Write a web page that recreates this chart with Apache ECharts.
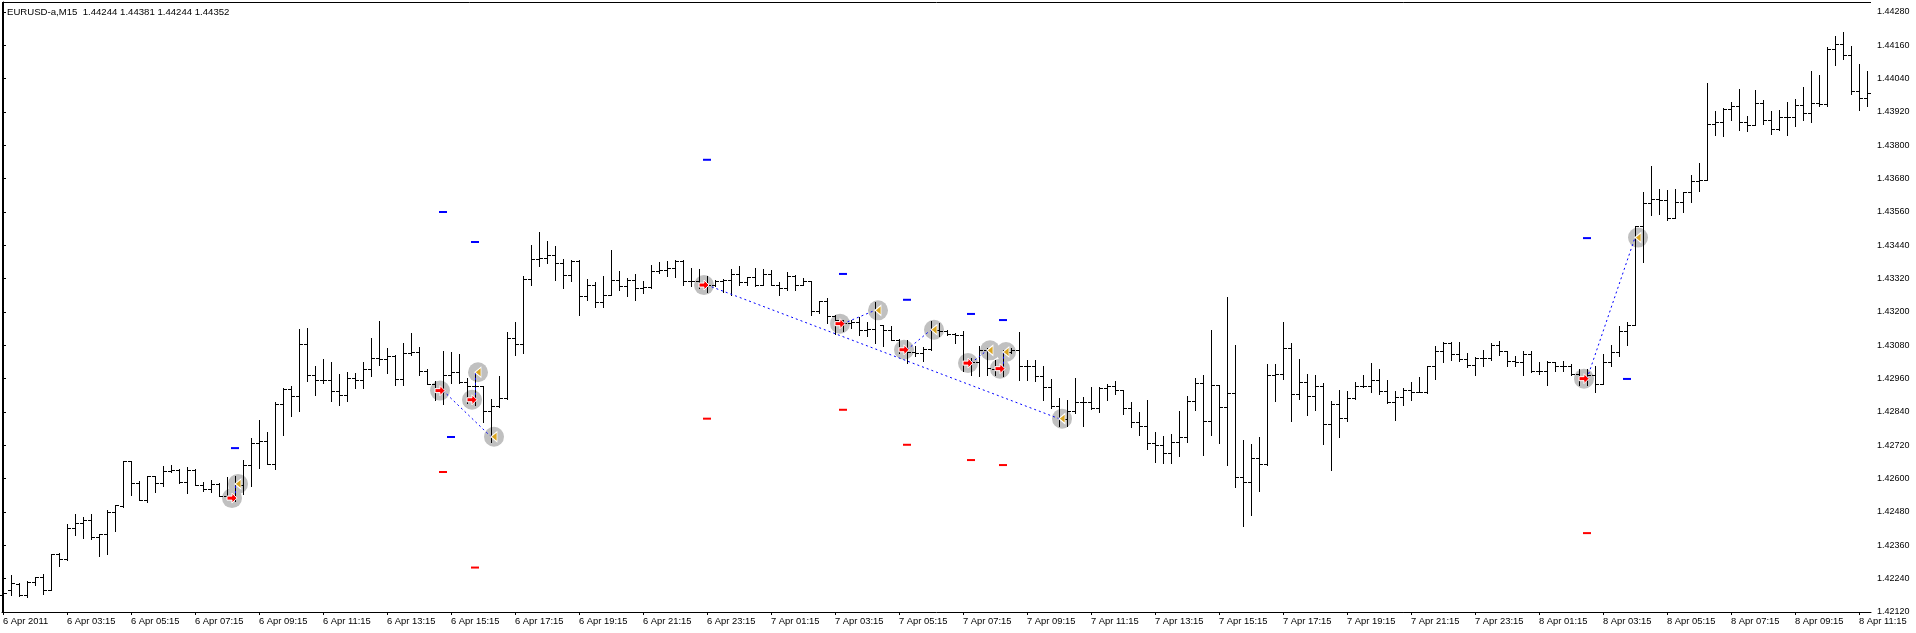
<!DOCTYPE html>
<html>
<head>
<meta charset="utf-8">
<title>EURUSD-a,M15</title>
<script src="https://cdn.jsdelivr.net/npm/echarts@6/dist/echarts.min.js"></script>
<style>
  html, body { margin: 0; padding: 0; background: #fff; }
  #chart { width: 1916px; height: 633px; }
</style>
</head>
<body>
<div id="chart"></div>
<script>
// M15 bars, first bar = 6 Apr 2011 01:15
var opens = [
  1.42182,1.42200,1.42222,1.42181,1.42227,1.42246,1.42199,1.42329,1.42311,1.42421,
  1.42440,1.42452,1.42389,1.42401,1.42481,1.42502,1.42664,1.42584,1.42522,1.42608,
  1.42584,1.42628,1.42632,1.42587,1.42632,1.42577,1.42563,1.42582,1.42536,1.42529,
  1.42578,1.42648,1.42728,1.42734,1.42653,1.42870,1.42924,1.42898,1.43086,1.42975,
  1.42955,1.42955,1.42917,1.42901,1.42962,1.42955,1.42996,1.43034,1.43031,1.43043,
  1.42959,1.43052,1.43056,1.42988,1.42942,1.42920,1.42974,1.42983,1.42949,1.42932,
  1.42932,1.42845,1.42860,1.42889,1.43106,1.43086,1.43319,1.43391,1.43394,1.43405,
  1.43375,1.43333,1.43385,1.43258,1.43297,1.43236,1.43262,1.43316,1.43292,1.43316,
  1.43286,1.43289,1.43349,1.43352,1.43358,1.43382,1.43310,1.43310,1.43298,1.43298,
  1.43313,1.43316,1.43337,1.43308,1.43325,1.43297,1.43338,1.43297,1.43285,1.43331,
  1.43297,1.43310,1.43202,1.43238,1.43184,1.43172,1.43160,1.43163,1.43134,1.43139,
  1.43152,1.43134,1.43100,1.43070,1.43056,1.43052,1.43067,1.43136,1.43130,1.43122,
  1.43118,1.43016,1.43020,1.43064,1.42995,1.42996,1.43055,1.43064,1.43004,1.43004,
  1.42968,1.42930,1.42860,1.42816,1.42842,1.42875,1.42876,1.42854,1.42926,1.42935,
  1.42918,1.42854,1.42804,1.42788,1.42728,1.42722,1.42692,1.42732,1.42750,1.42880,
  1.42944,1.42809,1.42938,1.42858,1.42908,1.42606,1.42587,1.42674,1.42654,1.42974,
  1.42978,1.43070,1.42906,1.42948,1.42896,1.42932,1.42797,1.42870,1.42818,1.42889,
  1.42932,1.42935,1.42956,1.42914,1.42876,1.42894,1.42920,1.42911,1.42911,1.43004,
  1.43061,1.43088,1.43049,1.43031,1.43010,1.43034,1.43034,1.43080,1.43058,1.43022,
  1.43020,1.43050,1.42986,1.42986,1.43019,1.43004,1.43004,1.42978,1.42962,1.42974,
  1.42942,1.43020,1.43056,1.43133,1.43154,1.43508,1.43592,1.43607,1.43604,1.43538,
  1.43596,1.43631,1.43670,1.43674,1.43878,1.43883,1.43931,1.43943,1.43884,1.43874,
  1.43952,1.43892,1.43859,1.43902,1.43902,1.43946,1.43916,1.43952,1.43950,1.44147,
  1.44166,1.44126,1.43994,1.43970
];
var highs = [
  1.42245,1.42253,1.42224,1.42230,1.42247,1.42258,1.42330,1.42332,1.42438,1.42473,
  1.42463,1.42473,1.42402,1.42486,1.42505,1.42664,1.42664,1.42590,1.42608,1.42608,
  1.42647,1.42650,1.42635,1.42641,1.42636,1.42587,1.42594,1.42584,1.42607,1.42608,
  1.42666,1.42746,1.42812,1.42768,1.42875,1.42925,1.42935,1.43140,1.43144,1.43007,
  1.43031,1.43021,1.42978,1.42985,1.42980,1.43020,1.43108,1.43169,1.43072,1.43044,
  1.43088,1.43124,1.43074,1.42996,1.42953,1.43060,1.43057,1.43050,1.42961,1.42983,
  1.42935,1.42888,1.42971,1.43129,1.43163,1.43331,1.43442,1.43489,1.43457,1.43439,
  1.43392,1.43386,1.43387,1.43320,1.43309,1.43328,1.43424,1.43346,1.43322,1.43338,
  1.43310,1.43370,1.43379,1.43382,1.43386,1.43388,1.43358,1.43355,1.43328,1.43316,
  1.43320,1.43355,1.43367,1.43326,1.43358,1.43355,1.43352,1.43307,1.43343,1.43334,
  1.43322,1.43310,1.43238,1.43250,1.43190,1.43172,1.43172,1.43182,1.43163,1.43236,
  1.43152,1.43148,1.43103,1.43098,1.43076,1.43073,1.43166,1.43160,1.43134,1.43124,
  1.43133,1.43034,1.43076,1.43070,1.43028,1.43064,1.43070,1.43129,1.43028,1.43028,
  1.43007,1.42960,1.42889,1.42884,1.42962,1.42894,1.42930,1.42930,1.42942,1.42953,
  1.42920,1.42877,1.42841,1.42884,1.42768,1.42755,1.42762,1.42845,1.42899,1.42962,
  1.42974,1.43136,1.42938,1.43253,1.43080,1.42740,1.42726,1.42750,1.43014,1.43014,
  1.43164,1.43088,1.43032,1.42978,1.42974,1.42944,1.42881,1.42920,1.42917,1.42948,
  1.42974,1.43016,1.42996,1.42956,1.42917,1.42926,1.42947,1.42966,1.43004,1.43076,
  1.43092,1.43092,1.43092,1.43052,1.43038,1.43064,1.43088,1.43094,1.43058,1.43043,
  1.43061,1.43061,1.43020,1.43025,1.43020,1.43022,1.43013,1.42995,1.42995,1.43007,
  1.43050,1.43082,1.43151,1.43163,1.43511,1.43631,1.43724,1.43643,1.43640,1.43644,
  1.43632,1.43694,1.43736,1.44024,1.43925,1.43934,1.43956,1.44003,1.43907,1.44000,
  1.43964,1.43922,1.43928,1.43956,1.43968,1.44010,1.44066,1.44054,1.44153,1.44195,
  1.44208,1.44159,1.44094,1.44069
];
var lows = [
  1.42176,1.42182,1.42176,1.42173,1.42216,1.42186,1.42198,1.42284,1.42308,1.42396,
  1.42385,1.42383,1.42320,1.42330,1.42410,1.42498,1.42540,1.42522,1.42515,1.42551,
  1.42572,1.42623,1.42584,1.42548,1.42576,1.42554,1.42553,1.42536,1.42527,1.42518,
  1.42545,1.42572,1.42638,1.42653,1.42635,1.42759,1.42824,1.42842,1.42950,1.42903,
  1.42944,1.42878,1.42864,1.42878,1.42925,1.42925,1.42968,1.43010,1.42979,1.42936,
  1.42939,1.43044,1.42972,1.42942,1.42884,1.42870,1.42944,1.42944,1.42872,1.42865,
  1.42804,1.42732,1.42857,1.42887,1.43044,1.43051,1.43296,1.43364,1.43378,1.43314,
  1.43285,1.43310,1.43191,1.43244,1.43217,1.43217,1.43262,1.43280,1.43256,1.43242,
  1.43268,1.43286,1.43340,1.43328,1.43326,1.43296,1.43295,1.43286,1.43271,1.43292,
  1.43271,1.43262,1.43297,1.43297,1.43292,1.43297,1.43297,1.43260,1.43279,1.43278,
  1.43296,1.43188,1.43196,1.43160,1.43122,1.43130,1.43142,1.43118,1.43112,1.43088,
  1.43076,1.43100,1.43052,1.43016,1.43040,1.43022,1.43064,1.43112,1.43118,1.43088,
  1.42986,1.42974,1.42968,1.42974,1.42974,1.42968,1.43052,1.42954,1.42956,1.42953,
  1.42884,1.42856,1.42788,1.42788,1.42836,1.42788,1.42852,1.42840,1.42882,1.42904,
  1.42833,1.42785,1.42756,1.42707,1.42659,1.42656,1.42656,1.42680,1.42732,1.42848,
  1.42684,1.42756,1.42728,1.42650,1.42569,1.42428,1.42468,1.42554,1.42650,1.42878,
  1.42959,1.42806,1.42888,1.42828,1.42848,1.42726,1.42630,1.42749,1.42809,1.42887,
  1.42930,1.42911,1.42905,1.42872,1.42810,1.42866,1.42884,1.42911,1.42908,1.42960,
  1.43019,1.43026,1.43022,1.43001,1.42972,1.43004,1.43028,1.43046,1.43004,1.43004,
  1.42972,1.42984,1.42978,1.42938,1.42986,1.42986,1.42972,1.42938,1.42938,1.42911,
  1.42941,1.43004,1.43040,1.43082,1.43154,1.43379,1.43550,1.43554,1.43530,1.43538,
  1.43559,1.43595,1.43634,1.43674,1.43838,1.43835,1.43892,1.43854,1.43850,1.43874,
  1.43878,1.43841,1.43856,1.43836,1.43868,1.43890,1.43883,1.43940,1.43940,1.44088,
  1.44111,1.43985,1.43928,1.43940
];
var closes = [
  1.42188,1.42223,1.42183,1.42228,1.42246,1.42200,1.42329,1.42311,1.42421,1.42440,
  1.42452,1.42389,1.42401,1.42481,1.42504,1.42664,1.42584,1.42523,1.42608,1.42584,
  1.42628,1.42630,1.42587,1.42632,1.42577,1.42563,1.42582,1.42536,1.42529,1.42578,
  1.42648,1.42728,1.42734,1.42653,1.42870,1.42924,1.42898,1.43086,1.42975,1.42955,
  1.42955,1.42917,1.42901,1.42962,1.42955,1.42996,1.43034,1.43031,1.43043,1.42959,
  1.43052,1.43056,1.42988,1.42942,1.42920,1.42974,1.42983,1.42949,1.42932,1.42932,
  1.42845,1.42860,1.42889,1.43106,1.43086,1.43319,1.43391,1.43394,1.43405,1.43375,
  1.43333,1.43385,1.43258,1.43297,1.43236,1.43262,1.43316,1.43292,1.43316,1.43286,
  1.43289,1.43349,1.43352,1.43358,1.43382,1.43310,1.43310,1.43298,1.43298,1.43313,
  1.43316,1.43337,1.43308,1.43325,1.43297,1.43338,1.43297,1.43285,1.43331,1.43297,
  1.43310,1.43202,1.43238,1.43184,1.43172,1.43160,1.43163,1.43134,1.43139,1.43206,
  1.43134,1.43100,1.43070,1.43056,1.43052,1.43067,1.43136,1.43130,1.43122,1.43118,
  1.43016,1.43020,1.43064,1.43000,1.42996,1.43055,1.43064,1.43004,1.43004,1.42968,
  1.42930,1.42860,1.42816,1.42842,1.42875,1.42876,1.42854,1.42926,1.42935,1.42918,
  1.42854,1.42804,1.42788,1.42728,1.42722,1.42692,1.42732,1.42750,1.42880,1.42944,
  1.42809,1.42938,1.42858,1.42908,1.42606,1.42587,1.42674,1.42654,1.42974,1.42978,
  1.43070,1.42906,1.42948,1.42896,1.42932,1.42797,1.42870,1.42818,1.42889,1.42932,
  1.42935,1.42956,1.42914,1.42876,1.42894,1.42920,1.42911,1.42911,1.43004,1.43061,
  1.43088,1.43049,1.43031,1.43010,1.43034,1.43034,1.43080,1.43058,1.43022,1.43020,
  1.43050,1.42986,1.42986,1.43019,1.43004,1.43004,1.42978,1.42962,1.42974,1.42942,
  1.43020,1.43056,1.43133,1.43154,1.43508,1.43592,1.43607,1.43604,1.43538,1.43596,
  1.43631,1.43670,1.43674,1.43878,1.43883,1.43931,1.43943,1.43884,1.43874,1.43952,
  1.43892,1.43859,1.43902,1.43902,1.43946,1.43916,1.43952,1.43950,1.44147,1.44166,
  1.44126,1.43994,1.43970,1.43988
];

// time labels, one every 8 bars
var timeLabels = [
  '6 Apr 2011','6 Apr 03:15','6 Apr 05:15','6 Apr 07:15','6 Apr 09:15','6 Apr 11:15',
  '6 Apr 13:15','6 Apr 15:15','6 Apr 17:15','6 Apr 19:15','6 Apr 21:15','6 Apr 23:15',
  '7 Apr 01:15','7 Apr 03:15','7 Apr 05:15','7 Apr 07:15','7 Apr 09:15','7 Apr 11:15',
  '7 Apr 13:15','7 Apr 15:15','7 Apr 17:15','7 Apr 19:15','7 Apr 21:15','7 Apr 23:15',
  '8 Apr 01:15','8 Apr 03:15','8 Apr 05:15','8 Apr 07:15','8 Apr 09:15','8 Apr 11:15'
];
var priceLabels = [
  '1.42120','1.42240','1.42360','1.42480','1.42600','1.42720','1.42840','1.42960',
  '1.43080','1.43200','1.43320','1.43440','1.43560','1.43680','1.43800','1.43920',
  '1.44040','1.44160','1.44280'
];

// trades: entry arrow / exit triangle (bar index, price)
var entryBar   = [29, 55, 59, 88, 105, 113, 121, 125, 198];
var entryPrice = [1.42530, 1.42917, 1.42884, 1.43297, 1.43158, 1.43064, 1.43016, 1.42996, 1.42960];
var exitBar    = [29, 61, 59, 132, 109, 116, 123, 125, 204];
var exitPrice  = [1.42581, 1.42751, 1.42983, 1.42816, 1.43206, 1.43136, 1.43062, 1.43056, 1.43468];

// take profit / stop loss marks
var tpBar   = [29, 55, 56, 59, 88, 105, 113, 121, 125, 198, 203];
var tpPrice = [1.42710, 1.43560, 1.42750, 1.43452, 1.43748, 1.43337, 1.43244, 1.43193, 1.43171, 1.43466, 1.42959];
var slBar   = [55, 59, 88, 105, 113, 121, 125, 198];
var slPrice = [1.42624, 1.42280, 1.42816, 1.42848, 1.42722, 1.42667, 1.42649, 1.42404];

var title = 'EURUSD-a,M15  1.44244 1.44381 1.44244 1.44352';
var font = 'Liberation Sans';

var bars = opens.map(function (o, i) {
  return [i, o, highs[i], lows[i], closes[i]];
});
var labelIdx = timeLabels.map(function (t, k) { return k * 8; });
var priceVals = priceLabels.map(function (s) { return parseFloat(s); });

function pair(xs, ys) {
  return xs.map(function (x, k) { return [x, ys[k]]; });
}
var tradeLines = entryBar.map(function (b, k) {
  return { coords: [[b, entryPrice[k]], [exitBar[k], exitPrice[k]]] };
});

function renderBar(params, api) {
  var i = api.value(0);
  var o = api.value(1), h = api.value(2), l = api.value(3), c = api.value(4);
  var top = api.coord([i, Math.max(h, o, c)]);
  var bot = api.coord([i, Math.min(l, o, c)]);
  var yo = Math.round(api.coord([i, o])[1]) + 0.5;
  var yc = Math.round(api.coord([i, c])[1]) + 0.5;
  var x = Math.round(top[0]) + 0.5;
  var st = { stroke: '#000', lineWidth: 1 };
  return {
    type: 'group',
    children: [
      { type: 'line', shape: { x1: x, y1: Math.round(top[1]), x2: x, y2: Math.round(bot[1]) + 1 }, style: st },
      { type: 'line', shape: { x1: x - 3.5, y1: yo, x2: x - 0.5, y2: yo }, style: st },
      { type: 'line', shape: { x1: x + 0.5, y1: yc, x2: x + 3.5, y2: yc }, style: st }
    ]
  };
}

var chart = echarts.init(document.getElementById('chart'), null, { renderer: 'canvas' });
chart.setOption({
  animation: false,
  backgroundColor: '#fff',
  textStyle: { fontFamily: font },
  grid: { left: 2, top: 2, right: 45, bottom: 21, show: false },
  graphic: [
    { type: 'line', shape: { x1: 2.5, y1: 2, x2: 2.5, y2: 612 }, style: { stroke: '#000', lineWidth: 1 }, silent: true },
    { type: 'line', shape: { x1: 2, y1: 2.5, x2: 1871, y2: 2.5 }, style: { stroke: '#000', lineWidth: 1 }, silent: true },
    {
      type: 'text', x: 7, y: 7, silent: true, z: 10,
      style: { text: title, fill: '#000', font: '9.6px "Liberation Sans"', textAlign: 'left', textVerticalAlign: 'top' }
    }
  ],
  xAxis: {
    type: 'value',
    min: -0.125,
    max: 233.5,
    splitLine: { show: false },
    axisLine: { show: true, lineStyle: { color: '#000', width: 1 } },
    axisTick: { show: true, customValues: labelIdx, length: 3, lineStyle: { color: '#000' } },
    axisLabel: {
      customValues: labelIdx,
      formatter: function (v) { return timeLabels[Math.round(v / 8)]; },
      align: 'left',
      margin: 5,
      color: '#000',
      fontFamily: font,
      fontSize: 9.4
    }
  },
  yAxis: {
    type: 'value',
    position: 'right',
    min: 1.42120,
    max: 1.44316,
    scale: true,
    splitLine: { show: false },
    axisLine: { show: true, lineStyle: { color: '#000', width: 1 } },
    axisTick: { show: true, customValues: priceVals, length: 3, lineStyle: { color: '#000' } },
    axisLabel: {
      customValues: priceVals,
      formatter: function (v) { return v.toFixed(5); },
      margin: 6,
      color: '#000',
      fontFamily: font,
      fontSize: 9
    }
  },
  series: [
    {
      name: 'entryCircle', type: 'scatter', z: 1, silent: true,
      data: pair(entryBar, entryPrice),
      symbol: 'circle', symbolSize: 20, symbolOffset: [-3, 0],
      itemStyle: { color: '#c0c0c0', opacity: 1 }
    },
    {
      name: 'exitCircle', type: 'scatter', z: 1, silent: true,
      data: pair(exitBar, exitPrice),
      symbol: 'circle', symbolSize: 20, symbolOffset: [3, 0],
      itemStyle: { color: '#c0c0c0', opacity: 1 }
    },
    {
      name: 'bars', type: 'custom', z: 2, silent: true,
      data: bars,
      encode: { x: 0, y: [1, 2, 3, 4] },
      renderItem: renderBar
    },
    {
      name: 'trades', type: 'lines', coordinateSystem: 'cartesian2d', z: 3, silent: true,
      data: tradeLines,
      lineStyle: { color: '#0000ff', width: 1, type: [2, 3], opacity: 1 }
    },
    {
      name: 'tp', type: 'scatter', z: 3, silent: true,
      data: pair(tpBar, tpPrice),
      symbol: 'rect', symbolSize: [8, 2],
      itemStyle: { color: '#0000ff', opacity: 1 }
    },
    {
      name: 'sl', type: 'scatter', z: 3, silent: true,
      data: pair(slBar, slPrice),
      symbol: 'rect', symbolSize: [8, 2],
      itemStyle: { color: '#ff0000', opacity: 1 }
    },
    {
      name: 'entry', type: 'scatter', z: 4, silent: true,
      data: pair(entryBar, entryPrice),
      symbol: 'path://M0,3 L5,3 L5,0 L10,5 L5,10 L5,7 L0,7 Z',
      symbolSize: [10, 10], symbolOffset: [-3, 0],
      itemStyle: { color: '#ff0000', borderColor: '#fff', borderWidth: 1, opacity: 1 }
    },
    {
      name: 'exit', type: 'scatter', z: 4, silent: true,
      data: pair(exitBar, exitPrice),
      symbol: 'path://M10,0 L10,16 L0,8 Z',
      symbolSize: [6, 10], symbolOffset: [3, 0],
      itemStyle: { color: '#daa520', borderColor: '#fff', borderWidth: 1, opacity: 1 }
    }
  ]
});
</script>
</body>
</html>
